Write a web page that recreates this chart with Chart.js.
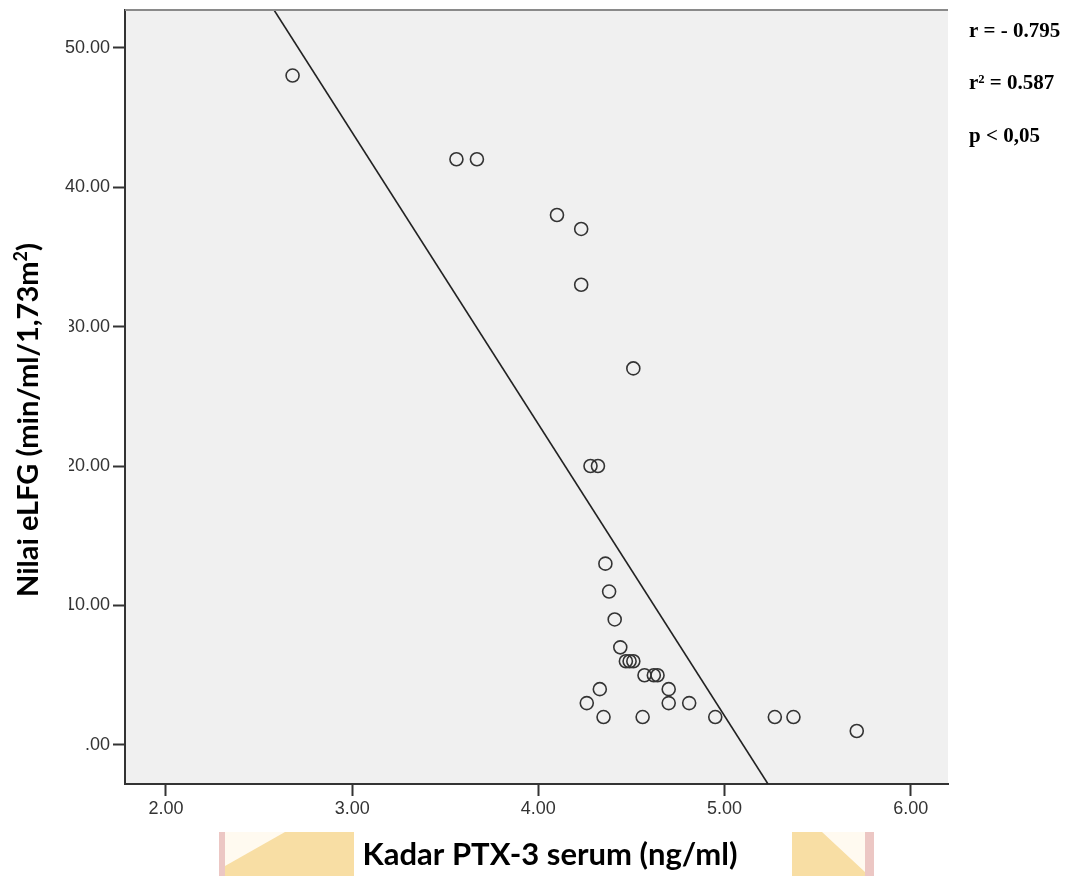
<!DOCTYPE html>
<html>
<head>
<meta charset="utf-8">
<script src="https://cdn.jsdelivr.net/npm/chart.js@4.4.0/dist/chart.umd.min.js"></script>
<style>
  html, body { margin: 0; padding: 0; background: #fff; }
</style>
</head>
<body>
<canvas id="scatterChart" width="1072" height="876"></canvas>
<script>
// Kadar PTX-3 serum (ng/ml), one entry per patient
const ptxValues = [2.68, 3.56, 3.67, 4.10, 4.23, 4.23, 4.51, 4.28, 4.32, 4.36,
                   4.38, 4.41, 4.44, 4.47, 4.49, 4.51, 4.57, 4.62, 4.64, 4.33,
                   4.70, 4.26, 4.70, 4.81, 4.35, 4.56, 4.95, 5.27, 5.37, 5.71];
// Nilai eLFG (min/ml/1,73m2), same order
const elfgValues = [48, 42, 42, 38, 37, 33, 27, 20, 20, 13,
                    11, 9, 7, 6, 6, 6, 5, 5, 5, 4,
                    4, 3, 3, 3, 2, 2, 2, 2, 2, 1];
const xTicks = [2, 3, 4, 5, 6];
const yTicks = [0, 10, 20, 30, 40, 50];
const statLines = ['r = - 0.795', 'r\u00b2 = 0.587', 'p < 0,05'];

const xMin = 1.78, xMax = 6.2;
const yMin = -2.8, yMax = 52.7;

// least squares fit line
function linearFit(xs, ys) {
    const n = xs.length;
    const mx = xs.reduce((a, b) => a + b, 0) / n;
    const my = ys.reduce((a, b) => a + b, 0) / n;
    let sxy = 0, sxx = 0;
    for (let i = 0; i < n; i++) {
        sxy += (xs[i] - mx) * (ys[i] - my);
        sxx += (xs[i] - mx) * (xs[i] - mx);
    }
    const slope = sxy / sxx;
    return { slope: slope, intercept: my - slope * mx };
}

const fit = linearFit(ptxValues, elfgValues);
const fitLine = [yMax, yMin].map(y => ({ x: (y - fit.intercept) / fit.slope, y: y }));
const points = ptxValues.map((x, i) => ({ x: x, y: elfgValues[i] }));

const framePlugin = {
    id: 'spssFrame',
    beforeDraw(chart) {
        const ctx = chart.ctx;
        const a = chart.chartArea;
        ctx.save();
        ctx.fillStyle = '#ffffff';
        ctx.fillRect(0, 0, chart.width, chart.height);
        ctx.fillStyle = '#f0f0f0';
        ctx.fillRect(a.left, a.top, a.right - a.left, a.bottom - a.top);
        ctx.restore();
    },
    afterDraw(chart) {
        const ctx = chart.ctx;
        const a = chart.chartArea;
        ctx.save();

        // grey frame line on top
        ctx.strokeStyle = '#8a8a8a';
        ctx.lineWidth = 2;
        ctx.beginPath();
        ctx.moveTo(a.left, a.top);
        ctx.lineTo(a.right, a.top);
        ctx.stroke();

        // y axis title, with white box behind it (it hides part of the tick labels)
        const mainPart = 'Nilai eLFG (min/ml/1,73m';
        ctx.font = 'bold 29px Lato';
        const w1 = ctx.measureText(mainPart).width;
        const w3 = ctx.measureText(')').width;
        ctx.font = 'bold 18px Lato';
        const w2 = ctx.measureText('2').width;
        const total = w1 + w2 + w3;
        const cy = 420;
        ctx.fillStyle = '#ffffff';
        ctx.fillRect(0, cy - total / 2 - 8, 69, total + 22);
        ctx.translate(38, cy);
        ctx.rotate(-Math.PI / 2);
        ctx.fillStyle = '#000000';
        ctx.textBaseline = 'alphabetic';
        ctx.font = 'bold 29px Lato';
        ctx.fillText(mainPart, -total / 2, 0);
        ctx.font = 'bold 18px Lato';
        ctx.fillText('2', -total / 2 + w1, -11);
        ctx.font = 'bold 29px Lato';
        ctx.fillText(')', -total / 2 + w1 + w2, 0);
        ctx.setTransform(1, 0, 0, 1, 0, 0);

        // faint watermark pieces near the x title
        ctx.fillStyle = '#f8dea4';
        ctx.fillRect(224, 832, 130, 44);
        ctx.fillStyle = '#ecc7c4';
        ctx.fillRect(219, 832, 6, 44);
        ctx.fillStyle = '#fffaf0';
        ctx.beginPath();
        ctx.moveTo(225, 832);
        ctx.lineTo(285, 832);
        ctx.lineTo(225, 866);
        ctx.closePath();
        ctx.fill();
        ctx.fillStyle = '#f8dea4';
        ctx.fillRect(792, 832, 73, 44);
        ctx.fillStyle = '#ecc7c4';
        ctx.fillRect(865, 832, 9, 44);
        ctx.fillStyle = '#fffaf0';
        ctx.beginPath();
        ctx.moveTo(792, 832);
        ctx.lineTo(822, 832);
        ctx.lineTo(865, 872);
        ctx.lineTo(865, 832);
        ctx.closePath();
        ctx.fill();

        // x axis title
        ctx.fillStyle = '#000000';
        ctx.font = 'bold 31px Lato';
        ctx.textAlign = 'center';
        ctx.textBaseline = 'alphabetic';
        ctx.fillText('Kadar PTX-3 serum (ng/ml)', 550, 865);

        // statistics
        ctx.textAlign = 'left';
        ctx.font = 'bold 21px "Liberation Serif"';
        const baselines = [37, 89, 142];
        statLines.forEach((s, i) => ctx.fillText(s, 969, baselines[i]));

        ctx.restore();
    }
};

const ctx = document.getElementById('scatterChart');
const scatterChart = new Chart(ctx, {
    type: 'scatter',
    data: {
        datasets: [{
            label: 'eLFG',
            data: points,
            pointRadius: 6.5,
            pointHoverRadius: 6.5,
            pointBorderWidth: 1.6,
            borderColor: '#333333',
            backgroundColor: 'rgba(0,0,0,0)'
        }, {
            type: 'line',
            label: 'Fit',
            data: fitLine,
            borderColor: '#222222',
            borderWidth: 1.6,
            pointRadius: 0,
            fill: false
        }]
    },
    options: {
        responsive: false,
        animation: false,
        layout: { padding: { top: 10, right: 124, left: 0, bottom: 0 } },
        plugins: {
            legend: { display: false },
            tooltip: { enabled: false }
        },
        scales: {
            x: {
                type: 'linear',
                min: xMin,
                max: xMax,
                afterBuildTicks: s => { s.ticks = xTicks.map(v => ({ value: v })); },
                afterFit: s => { s.height = 92; s.paddingLeft = 0; s.paddingRight = 0; },
                ticks: {
                    callback: v => v.toFixed(2),
                    font: { family: 'Liberation Sans', size: 18 },
                    color: '#333333',
                    padding: 2,
                    maxRotation: 0,
                    autoSkip: false
                },
                grid: { drawOnChartArea: false, tickLength: 12, tickWidth: 2, tickColor: '#333333' },
                border: { color: '#333333', width: 2 }
            },
            y: {
                type: 'linear',
                min: yMin,
                max: yMax,
                afterBuildTicks: s => { s.ticks = yTicks.map(v => ({ value: v })); },
                afterFit: s => { s.width = 125; s.paddingTop = 0; s.paddingBottom = 0; },
                ticks: {
                    callback: v => (v === 0 ? '.00' : v.toFixed(2)),
                    font: { family: 'Liberation Sans', size: 18 },
                    color: '#333333',
                    padding: 3
                },
                grid: { drawOnChartArea: false, tickLength: 12, tickWidth: 2, tickColor: '#333333' },
                border: { color: '#333333', width: 2 }
            }
        }
    },
    plugins: [framePlugin]
});
</script>
</body>
</html>
